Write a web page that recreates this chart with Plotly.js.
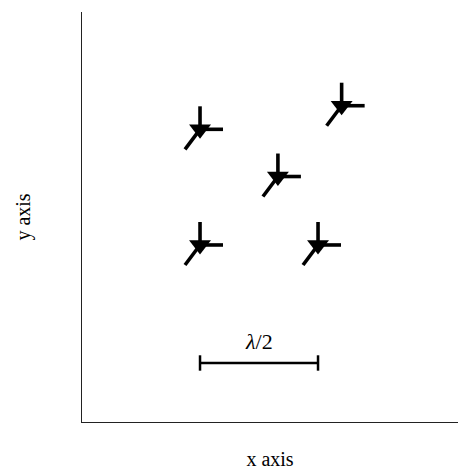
<!DOCTYPE html>
<html>
<head>
<meta charset="utf-8">
<script src="https://cdn.plot.ly/plotly-3.0.1.min.js"></script>
<style>html,body{margin:0;padding:0;background:#fff}#plot{width:458px;height:472px}</style>
</head>
<body>
<div id="plot"></div>
<script>
// Source positions (in units of wavelength lambda)
var srcX = [0.50, 1.10, 0.83, 0.50, 1.00];
var srcY = [1.24, 1.34, 1.04, 0.75, 0.75];
// Scale bar (lambda/2)
var barX = [0.50, 1.00];
var barY = [0.25, 0.25];
var barLabel = '<i>λ</i>/2';
var xTitle = 'x axis';
var yTitle = 'y axis';

var W = 458, H = 472;
var margin = {l: 82, r: 0, t: 12, b: 50};
var xRange = [0, 1.593];
var yRange = [0, 1.737];
var plotW = W - margin.l - margin.r;
var plotH = H - margin.t - margin.b;
var pxX = plotW / (xRange[1] - xRange[0]);
var pxY = plotH / (yRange[1] - yRange[0]);

// arm offsets in screen pixels (dx right, dy down)
var arms = [[0, -23], [23, 0], [-15, 20]];
var armX = [], armY = [];
for (var i = 0; i < srcX.length; i++) {
  for (var j = 0; j < arms.length; j++) {
    armX.push(srcX[i], srcX[i] + arms[j][0] / pxX, null);
    armY.push(srcY[i], srcY[i] - arms[j][1] / pxY, null);
  }
}

var font = 'Liberation Serif, Times New Roman, serif';

var traces = [
  {x: armX, y: armY, mode: 'lines', line: {color: '#000', width: 3.6}, hoverinfo: 'skip', showlegend: false, connectgaps: false},
  {x: srcX, y: srcY, mode: 'markers', marker: {symbol: 'triangle-down', size: 19, color: '#000', line: {width: 0}}, showlegend: false},
  {x: barX, y: barY, mode: 'lines+markers', line: {color: '#000', width: 2.5}, marker: {symbol: 'line-ns', size: 11, line: {color: '#000', width: 2.5}}, showlegend: false}
];

var layout = {
  width: W, height: H,
  margin: margin,
  paper_bgcolor: '#fff', plot_bgcolor: '#fff',
  showlegend: false,
  font: {family: font, color: '#000', size: 20},
  xaxis: {range: xRange, showgrid: false, zeroline: false, showticklabels: false, ticks: '',
          showline: true, linecolor: '#222', linewidth: 1.2, fixedrange: true,
          title: {text: xTitle, font: {family: font, size: 20, color: '#000'}, standoff: 29}},
  yaxis: {range: yRange, showgrid: false, zeroline: false, showticklabels: false, ticks: '',
          showline: true, linecolor: '#222', linewidth: 1.2, fixedrange: true,
          title: {text: yTitle, font: {family: font, size: 20, color: '#000'}, standoff: 44}},
  annotations: [{
    x: (barX[0] + barX[1]) / 2, y: barY[0], xref: 'x', yref: 'y',
    text: barLabel, showarrow: false, yanchor: 'bottom', yshift: 7,
    font: {family: font, size: 22, color: '#000'}
  }]
};

Plotly.newPlot('plot', traces, layout, {displayModeBar: false, staticPlot: true});
</script>
</body>
</html>
